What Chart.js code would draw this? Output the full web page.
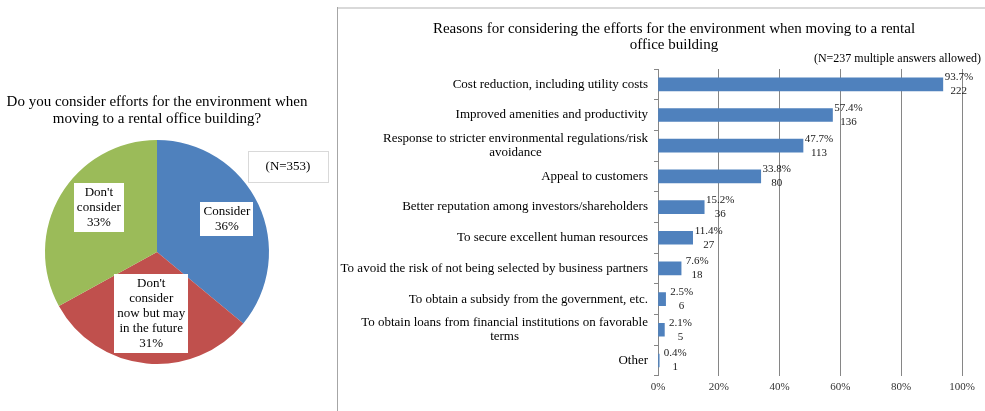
<!DOCTYPE html>
<html>
<head>
<meta charset="utf-8">
<script src="https://cdn.jsdelivr.net/npm/chart.js@4.4.0/dist/chart.umd.min.js"></script>
<style>
    body {margin: 0; background: #fff;}
    #wrap {position: relative; width: 985px; height: 411px; overflow: hidden; background: #fff;}
    #pie {position: absolute; left: 0; top: 0;}
    #bars {position: absolute; left: 337px; top: 0;}
    .edge-left {position: absolute; left: 337px; top: 7px; width: 1px; height: 404px; background: #a6a6a6;}
    .edge-top {position: absolute; left: 337px; top: 7px; width: 648px; height: 2px; background: #d9d9d9;}
</style>
</head>
<body>
<div id="wrap">
    <canvas id="pie" width="337" height="411"></canvas>
    <div class="edge-top"></div>
    <div class="edge-left"></div>
    <canvas id="bars" width="648" height="411"></canvas>
</div>
<script>
// left: do companies consider the environment when moving offices
const pieTitle = ['Do you consider efforts for the environment when', 'moving to a rental office building?']
const pieCategories = ['Consider', "Don't consider now but may in the future", "Don't consider"]
const pieShares = [36, 31, 33]
const pieLabelLines = [['Consider'], ["Don't", 'consider', 'now but may', 'in the future'], ["Don't", 'consider']]
const pieColors = ['#4F81BD', '#C0504D', '#9BBB59']
const pieNote = '(N=353)'

// right: reasons (multiple answers)
const barTitle = ['Reasons for considering the efforts for the environment when moving to a rental', 'office building']
const barNote = '(N=237 multiple answers allowed)'
const reasonLabels = [
    ['Cost reduction, including utility costs'],
    ['Improved amenities and productivity'],
    ['Response to stricter environmental regulations/risk', 'avoidance'],
    ['Appeal to customers'],
    ['Better reputation among investors/shareholders'],
    ['To secure excellent human resources'],
    ['To avoid the risk of not being selected by business partners'],
    ['To obtain a subsidy from the government, etc.'],
    ['To obtain loans from financial institutions on favorable', 'terms'],
    ['Other'],
]
const reasonShares = [93.7, 57.4, 47.7, 33.8, 15.2, 11.4, 7.6, 2.5, 2.1, 0.4]
const reasonCounts = [222, 136, 113, 80, 36, 27, 18, 6, 5, 1]
const xTicks = [0, 20, 40, 60, 80, 100]

const SERIF = "'Liberation Serif', 'Times New Roman', serif"
Chart.defaults.font.family = SERIF

new Chart(document.getElementById('pie'), {
    type: 'pie',
    data: {
        labels: pieCategories,
        datasets: [{
            data: pieShares,
            backgroundColor: pieColors,
            borderWidth: 0,
        }],
    },
    options: {
        responsive: false,
        animation: false,
        layout: {padding: {left: 45, right: 68, top: 140, bottom: 47}},
        plugins: {
            legend: {display: false},
            tooltip: {enabled: false},
        },
    },
    plugins: [{
        id: 'pie-text',
        afterDraw(chart) {
            const {ctx} = chart
            ctx.save()
            ctx.fillStyle = '#000'
            ctx.textAlign = 'center'
            ctx.textBaseline = 'middle'
            ctx.font = `15px ${SERIF}`
            pieTitle.forEach((line, i) => ctx.fillText(line, 157, 102 + i * 17))

            // sample size box
            ctx.strokeStyle = '#d9d9d9'
            ctx.lineWidth = 1
            ctx.strokeRect(248.5, 151.5, 80, 31)
            ctx.font = `13px ${SERIF}`
            ctx.fillText(pieNote, 288, 167)

            // slice labels in white boxes (radius factor, angle nudge in degrees)
            const labelPolar = [[0.69, 0], [0.55, 0], [0.655, 7]]
            const lineH = 15
            chart.getDatasetMeta(0).data.forEach((arc, i) => {
                const {x, y, startAngle, endAngle, outerRadius} =
                    arc.getProps(['x', 'y', 'startAngle', 'endAngle', 'outerRadius'], true)
                const [k, nudge] = labelPolar[i]
                const mid = (startAngle + endAngle) / 2 + nudge * Math.PI / 180
                const cx = x + Math.cos(mid) * outerRadius * k
                const cy = y + Math.sin(mid) * outerRadius * k
                const lines = [...pieLabelLines[i], pieShares[i] + '%']
                const w = Math.max(...lines.map(l => ctx.measureText(l).width)) + 6
                const h = lines.length * lineH + 4
                ctx.fillStyle = '#fff'
                ctx.fillRect(Math.round(cx - w / 2), Math.round(cy - h / 2), Math.round(w), Math.round(h))
                ctx.fillStyle = '#000'
                lines.forEach((l, j) => {
                    ctx.fillText(l, cx, cy - (lines.length - 1) * lineH / 2 + j * lineH)
                })
            })
            ctx.restore()
        },
    }],
})

new Chart(document.getElementById('bars'), {
    type: 'bar',
    data: {
        labels: reasonLabels,
        datasets: [{
            data: reasonShares,
            backgroundColor: '#4F81BD',
            borderWidth: 0,
            barThickness: 13,
        }],
    },
    options: {
        indexAxis: 'y',
        responsive: false,
        animation: false,
        layout: {padding: {top: 69, right: 23, bottom: 12, left: 0}},
        plugins: {
            legend: {display: false},
            tooltip: {enabled: false},
        },
        scales: {
            x: {
                min: 0,
                max: 100,
                afterBuildTicks: scale => {
                    scale.ticks = xTicks.map(value => ({value}))
                },
                border: {display: false},
                grid: {color: '#868686', drawTicks: false},
                ticks: {
                    padding: 5,
                    color: '#333',
                    font: {size: 11},
                    callback: v => v + '%',
                },
            },
            y: {
                afterFit: scale => {
                    scale.width = 321
                },
                border: {color: '#868686'},
                grid: {offset: true, drawOnChartArea: false, tickLength: 4, color: '#868686'},
                ticks: {display: false},
            },
        },
    },
    plugins: [{
        id: 'bar-text',
        afterDraw(chart) {
            const {ctx, chartArea, scales: {y}} = chart
            ctx.save()
            ctx.fillStyle = '#000'
            ctx.textBaseline = 'middle'

            // titles
            ctx.font = `15px ${SERIF}`
            ctx.textAlign = 'center'
            barTitle.forEach((line, i) => ctx.fillText(line, 337, 29 + i * 16))
            ctx.font = `12px ${SERIF}`
            ctx.textAlign = 'right'
            ctx.fillText(barNote, 644, 59)

            // category labels, each block right-aligned with its lines centred
            ctx.font = `13px ${SERIF}`
            const right = chartArea.left - 10
            reasonLabels.forEach((lines, i) => {
                const w = Math.max(...lines.map(l => ctx.measureText(l).width))
                const cy = y.getPixelForValue(i)
                ctx.textAlign = 'center'
                lines.forEach((l, j) => {
                    ctx.fillText(l, right - w / 2, cy - (lines.length - 1) * 7 + j * 14)
                })
            })

            // value labels: share and count
            ctx.font = `11px ${SERIF}`
            ctx.fillStyle = '#1a1a1a'
            ctx.textAlign = 'center'
            chart.getDatasetMeta(0).data.forEach((bar, i) => {
                const {x, y: by} = bar.getProps(['x', 'y'], true)
                ctx.fillText(reasonShares[i].toFixed(1) + '%', x + 16, by - 7)
                ctx.fillText(String(reasonCounts[i]), x + 16, by + 7)
            })
            ctx.restore()
        },
    }],
})
</script>
</body>
</html>
